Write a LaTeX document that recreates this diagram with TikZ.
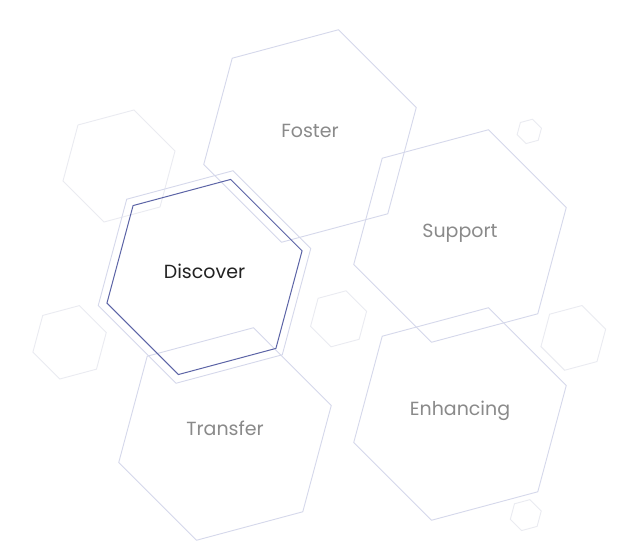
\documentclass[tikz,border=0pt]{standalone}
\usepackage{fontspec}
\setmainfont{Poppins}

\definecolor{hexline}{RGB}{213,216,235}
\definecolor{hexfaint}{RGB}{234,235,241}
\definecolor{activeline}{RGB}{92,100,166}
\definecolor{labelgrey}{RGB}{138,138,138}
\definecolor{labeldark}{RGB}{34,34,34}

\tikzset{
  pics/hexa/.style={code={
    \draw[pic actions] (15:#1pt) -- (75:#1pt) -- (135:#1pt) -- (195:#1pt)
      -- (255:#1pt) -- (315:#1pt) -- cycle;}},
  bighex/.style={draw=hexline, line width=0.9pt},
  smallhex/.style={draw=hexfaint, line width=0.9pt},
  activehex/.style={draw=activeline, line width=1pt},
  hexlabel/.style={anchor=base, inner sep=0pt, font=\fontsize{19}{22}\selectfont,
    text=labelgrey, yshift=-1.5pt},
  activelabel/.style={hexlabel, text=labeldark},
}

\begin{document}
\begin{tikzpicture}[x=1pt, y=1pt]
  \useasboundingbox (0,0) rectangle (627,559);
  \fill[white] (0,0) rectangle (627,559);

  % centres of the five large cells
  \coordinate (foster)    at (310,423);
  \coordinate (support)   at (460,323);
  \coordinate (enhancing) at (460,145);
  \coordinate (transfer)  at (225,125);
  \coordinate (discover)  at (204.5,282);

  % centres of the decorative small cells
  \coordinate (sA) at (119,393);
  \coordinate (sB) at (69.6,216.7);
  \coordinate (sC) at (338.6,240.2);
  \coordinate (sD) at (573.3,221.1);
  \coordinate (sE) at (525.8,43.9);
  \coordinate (sF) at (529.3,427.6);

  % decorative small cells
  \pic[smallhex] at (sA) {hexa=58};
  \pic[smallhex] at (sB) {hexa=38};
  \pic[smallhex] at (sC) {hexa=29};
  \pic[smallhex] at (sD) {hexa=33.5};
  \pic[smallhex] at (sE) {hexa=16};
  \pic[smallhex] at (sF) {hexa=12.6};

  % large cells
  \pic[bighex] at (foster)    {hexa=110};
  \pic[bighex] at (support)   {hexa=110};
  \pic[bighex] at (enhancing) {hexa=110};
  \pic[bighex] at (transfer)  {hexa=110};
  \pic[bighex] at (discover)  {hexa=110};

  % highlighted cell
  \pic[activehex] at (discover) {hexa=101};

  % labels
  \node[hexlabel]    (lfoster)    at (foster)    {Foster};
  \node[hexlabel]    (lsupport)   at (support)   {Support};
  \node[hexlabel]    (lenhancing) at (enhancing) {Enhancing};
  \node[hexlabel]    (ltransfer)  at (transfer)  {Transfer};
  \node[activelabel] (ldiscover)  at (discover)  {Discover};
\end{tikzpicture}
\end{document}
